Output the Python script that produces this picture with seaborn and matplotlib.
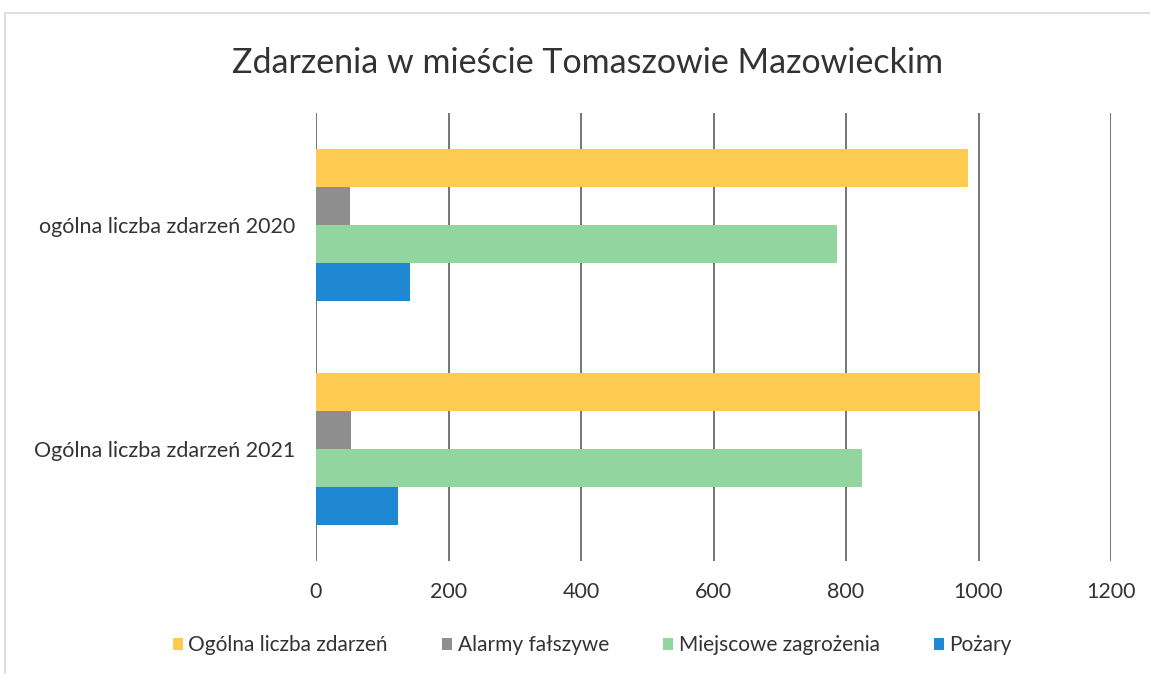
import matplotlib
matplotlib.use("Agg")
import matplotlib.pyplot as plt
import seaborn as sns
import pandas as pd
from matplotlib.patches import Rectangle

categories = ["ogólna liczba zdarzeń 2020", "Ogólna liczba zdarzeń 2021"]
series = ["Ogólna liczba zdarzeń", "Alarmy fałszywe", "Miejscowe zagrożenia", "Pożary"]
ogolna = [984, 1002]
alarmy = [51, 53]
miejscowe = [786, 824]
pozary = [142, 124]
colors = ["#FDCB4F", "#8E8E8E", "#93D69D", "#1E88D2"]
xticks = [0, 200, 400, 600, 800, 1000, 1200]

rows = []
for name, vals in zip(series, [ogolna, alarmy, miejscowe, pozary]):
    for c, v in zip(categories, vals):
        rows.append({"kategoria": c, "seria": name, "wartosc": v})
df = pd.DataFrame(rows)

sns.set_theme(style="white")
plt.rcParams["font.family"] = ["Lato", "DejaVu Sans"]

fig = plt.figure(figsize=(11.5, 6.74), dpi=100)
ax = fig.add_axes([0.2748, 0.1677, 0.6913, 0.6646])

sns.barplot(data=df, y="kategoria", x="wartosc", hue="seria", order=categories,
            hue_order=series, palette=colors, orient="h", width=0.68, gap=0,
            saturation=1, ax=ax, zorder=3, legend=True, linewidth=0, edgecolor="none")

ax.set_xlim(0, 1200)
ax.set_xticks(xticks)
ax.set_xticklabels([str(t) for t in xticks])
ax.set_ylim(1.5, -0.5)
ax.grid(axis="x", color="#6a6a6a", linewidth=1.3, zorder=0)
ax.grid(axis="y", visible=False)
for s in ax.spines.values():
    s.set_visible(False)
ax.tick_params(axis="both", length=0, labelsize=15.5, colors="#333333")
ax.tick_params(axis="x", pad=15)
ax.tick_params(axis="y", pad=15)
ax.set_xlabel("")
ax.set_ylabel("")

fig.suptitle("Zdarzenia w mieście Tomaszowie Mazowieckim", x=0.511, y=0.93,
             fontsize=24.5, color="#333333")

handles, labels = ax.get_legend_handles_labels()
ax.legend_.remove()
fig.legend(handles, labels, loc="center", bbox_to_anchor=(0.515, 0.043), ncol=4,
           frameon=False, fontsize=15, handlelength=0.5, handleheight=0.5,
           handletextpad=0.25, columnspacing=2.6, labelcolor="#333333")

fig.patches.append(Rectangle((0.004, -0.1), 1.1, 1.08, transform=fig.transFigure,
                             fill=False, edgecolor="#d9d9d9", linewidth=1.2))

fig.savefig("out.png", dpi=100)
